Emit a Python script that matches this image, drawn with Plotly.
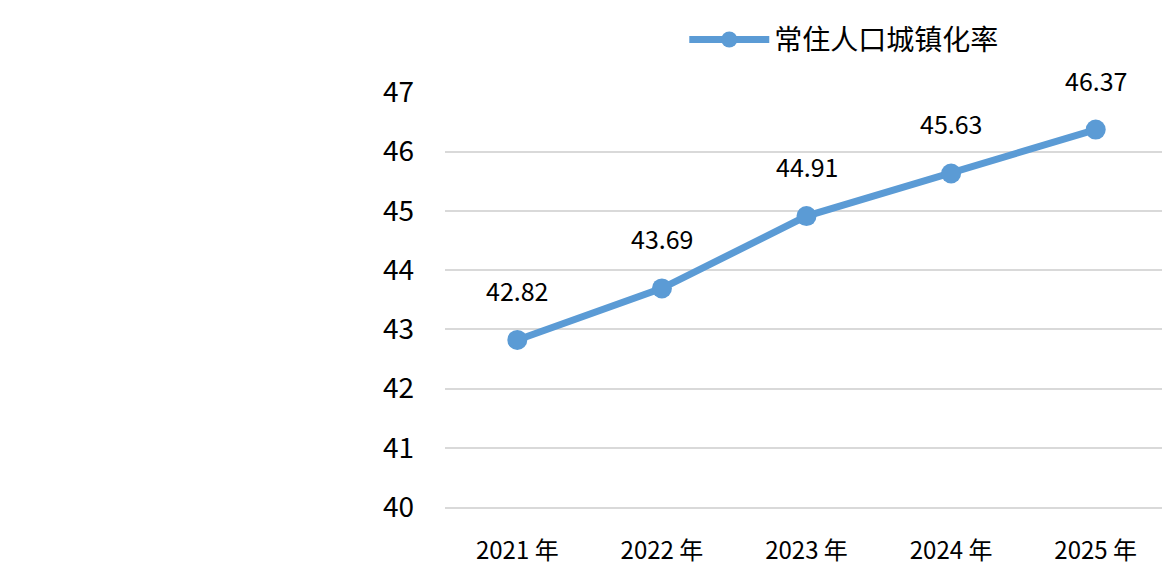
import plotly.graph_objects as go

categories = ["2021 年", "2022 年", "2023 年", "2024 年", "2025 年"]
values = [42.82, 43.69, 44.91, 45.63, 46.37]
series_name = "常住人口城镇化率"
y_ticks = [40, 41, 42, 43, 44, 45, 46, 47]

FONT = "Noto Sans CJK SC, sans-serif"
BLUE = "#5B9BD5"
GRID = "#D9D9D9"

fig = go.Figure()
fig.add_trace(go.Scatter(
    x=categories, y=values, mode="lines+markers", name=series_name,
    line=dict(color=BLUE, width=7),
    marker=dict(color=BLUE, size=20),
    showlegend=True,
))

for c, v in zip(categories, values):
    fig.add_annotation(x=c, y=v, text=f"{v:.2f}", showarrow=False,
                       yshift=50, font=dict(family=FONT, size=25, color="#000000"))

fig.update_layout(
    width=1162, height=568,
    margin=dict(l=437, r=2, t=84, b=69),
    plot_bgcolor="white", paper_bgcolor="white",
    font=dict(family=FONT, color="#000000"),
    legend=dict(orientation="h", xref="container", yref="container",
                x=0.582, xanchor="left", y=0.988, yanchor="top",
                font=dict(size=28, family=FONT), itemwidth=80),
    xaxis=dict(showgrid=False, showline=True, linecolor=GRID, linewidth=2,
               zeroline=False, tickfont=dict(size=24, family=FONT), ticks="",
               range=[-0.5, 4.5], ticklabelstandoff=21),
    yaxis=dict(range=[40, 47.005], tickvals=y_ticks, showgrid=True,
               gridcolor=GRID, gridwidth=2, zeroline=False, showline=False,
               tickfont=dict(size=28, family=FONT), ticks="", ticklabelstandoff=30),
)

fig.write_html("out.html")
